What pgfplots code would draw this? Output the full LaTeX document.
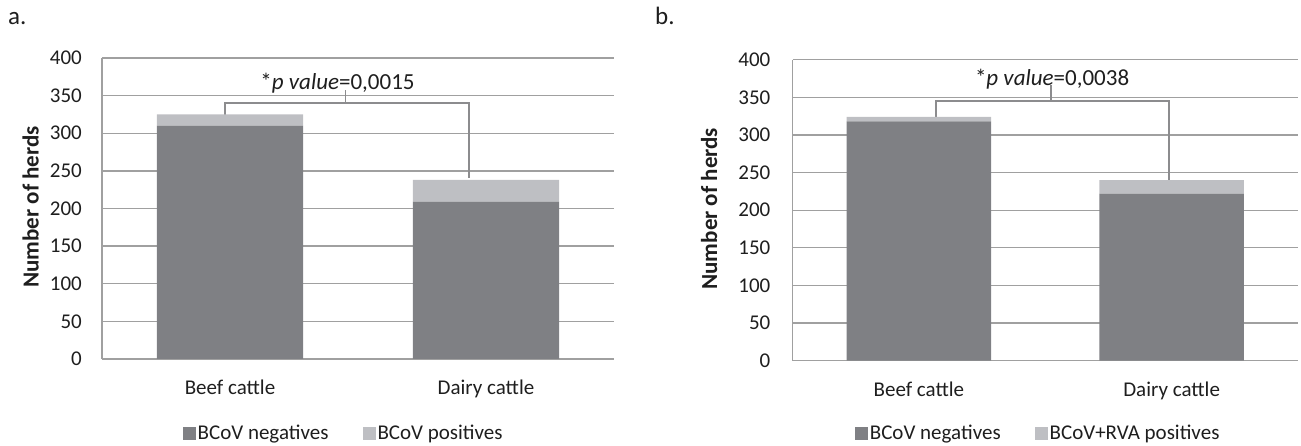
\documentclass[border=0pt]{standalone}
\usepackage{pgfplots}
\pgfplotsset{compat=1.18}
\usepackage{fontspec}
\setmainfont{Carlito}

\definecolor{negc}{RGB}{127,128,132}
\definecolor{posc}{RGB}{190,191,195}
\definecolor{gridc}{RGB}{160,160,160}
\definecolor{brk}{RGB}{140,140,142}
\definecolor{txt}{RGB}{30,30,30}

% herds per category: negatives, positives
\pgfplotstableread{
x neg pos
0 310 15
1 209 29
}\panelA
\pgfplotstableread{
x neg pos
0 318 6
1 222 18
}\panelB

\pgfplotsset{
  herdbars/.style={
    scale only axis, height=301pt, anchor=south west,
    ybar stacked, bar width=0.571,
    xmin=-0.5, xmax=1.5, ymin=0, ymax=400,
    xtick={0,1}, xticklabels={Beef cattle, Dairy cattle},
    ytick={0,50,...,400},
    ymajorgrids, grid style={gridc, line width=1.3pt},
    axis x line=bottom, axis y line=left,
    axis line style={gridc, line width=1.3pt, -},
    major tick length=0pt,
    /pgf/number format/assume math mode=true,
    tick label style={txt},
    xticklabel style={yshift=-14pt},
    ylabel={Number of herds},
    ylabel style={anchor=center, rotate=0,
      font=\fontsize{23}{26}\selectfont\bfseries, txt},
    legend columns=2,
    legend style={draw=none, fill=none, anchor=center, text=txt,
      nodes={inner sep=1.5pt},
      /tikz/every even column/.append style={column sep=33pt}},
    legend image code/.code={\fill[##1] (0pt,-6.5pt) rectangle (13pt,6.5pt);},
  },
}

\begin{document}
\fontsize{21}{25}\selectfont
\begin{tikzpicture}
\path[use as bounding box] (0,0) rectangle (1301pt,446pt);
\node[anchor=base west, txt, inner sep=0pt, font=\fontsize{25}{28}\selectfont] at (8pt,421pt) {a.};
\node[anchor=base west, txt, inner sep=0pt, font=\fontsize{25}{28}\selectfont] at (655pt,421pt) {b.};

\begin{axis}[herdbars, at={(102pt,87pt)}, width=512pt,
  yticklabel style={xshift=-13pt},
  ylabel style={at={(axis description cs:-0.1396,0.505)}},
  legend style={at={(axis description cs:0.472,-0.2475)}}]
  \addplot[fill=negc, draw=none] table[x=x, y=neg] {\panelA};
  \addplot[fill=posc, draw=none] table[x=x, y=pos] {\panelA};
  \legend{BCoV negatives, BCoV positives}
  \draw[brk, line width=1.5pt] (axis cs:-0.02,316) -- (axis cs:-0.02,340)
    -- (axis cs:0.934,340) -- (axis cs:0.934,240);
  \draw[brk, line width=1.5pt] (axis cs:0.452,340) -- (axis cs:0.452,358);
  \node[anchor=base, txt, font=\fontsize{23}{26}\selectfont]
    at (axis cs:0.42,358) {*\textit{p value}=0,0015};
\end{axis}

\begin{axis}[herdbars, at={(792.5pt,85.3pt)}, width=505.5pt,
  yticklabel style={xshift=-15pt},
  ylabel style={at={(axis description cs:-0.165,0.505)}},
  legend style={at={(axis description cs:0.486,-0.2420)}}]
  \addplot[fill=negc, draw=none] table[x=x, y=neg] {\panelB};
  \addplot[fill=posc, draw=none] table[x=x, y=pos] {\panelB};
  \legend{BCoV negatives, BCoV+RVA positives}
  \draw[brk, line width=1.5pt] (axis cs:0.067,319) -- (axis cs:0.067,345)
    -- (axis cs:0.99,345) -- (axis cs:0.99,240);
  \draw[brk, line width=1.5pt] (axis cs:0.523,345) -- (axis cs:0.523,366);
  \node[anchor=base, txt, font=\fontsize{23}{26}\selectfont]
    at (axis cs:0.527,366) {*\textit{p value}=0,0038};
\end{axis}
\end{tikzpicture}
\end{document}
